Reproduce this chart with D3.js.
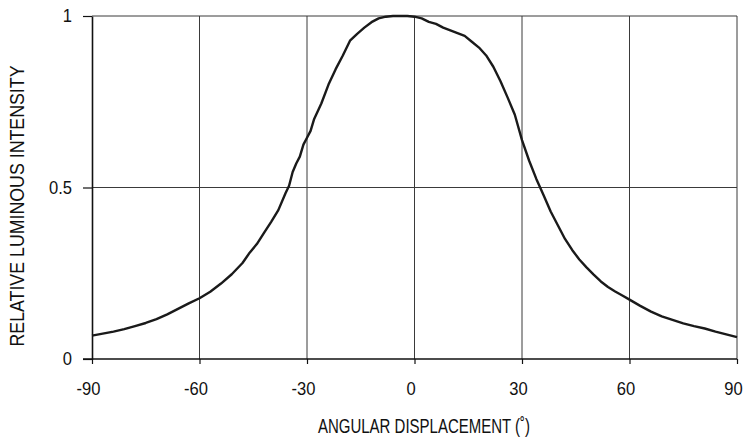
<!DOCTYPE html>
<html>
<head>
<meta charset="utf-8">
<script src="https://cdn.jsdelivr.net/npm/d3@7"></script>
<style>
  html, body { margin: 0; padding: 0; background: #fff; }
  svg text { font-family: "Liberation Sans", Arial, sans-serif; fill: #111; }
</style>
</head>
<body>
<svg id="chart" width="746" height="440"></svg>
<script>
const angles = [-90,-87,-84,-81,-78,-75,-72,-69,-66,-63,-60,-57,-54,-51,-48,-46,-44,-42,-40,-38,-36,-35,-34,-33,-32,-31,-30,-29,-28,-26,-24,-22,-20,-18,-16,-14,-12,-10,-8,-6,-4,-2,0,2,4,6,8,10,12,14,16,18,20,22,24,26,28,30,32,34,36,38,40,42,44,46,48,50,52,54,56,58,60,63,66,69,72,75,78,81,84,87,90];
const intensity = [0.068,0.074,0.080,0.087,0.096,0.105,0.116,0.130,0.146,0.162,0.177,0.196,0.220,0.247,0.280,0.310,0.335,0.368,0.400,0.434,0.483,0.505,0.545,0.570,0.590,0.625,0.645,0.665,0.700,0.745,0.800,0.845,0.885,0.928,0.948,0.966,0.982,0.993,0.998,1.0,1.0,1.0,0.998,0.993,0.983,0.977,0.966,0.958,0.950,0.942,0.925,0.908,0.885,0.852,0.810,0.762,0.712,0.638,0.578,0.525,0.478,0.430,0.390,0.350,0.318,0.290,0.267,0.246,0.226,0.210,0.197,0.185,0.173,0.155,0.138,0.124,0.114,0.104,0.096,0.089,0.080,0.072,0.064];
const xTicks = [-90,-60,-30,0,30,60,90];
const xTickLabels = ["-90","-60","-30","0","30","60","90"];
const yTicks = [0,0.5,1];
const yTickLabels = ["0","0.5","1"];
const xTitle = "ANGULAR DISPLACEMENT (˚)";
const yTitle = "RELATIVE LUMINOUS INTENSITY";

const svg = d3.select("#chart");
const mLeft = 92, mRight = 737, mTop = 16, mBottom = 359;
const x = d3.scaleLinear().domain([-90, 90]).range([mLeft, mRight]);
const y = d3.scaleLinear().domain([0, 1]).range([mBottom, mTop]);

// condense text horizontally (reference uses a narrow typeface)
function condense(sel, factor) {
  sel.each(function () {
    const w = this.getComputedTextLength();
    d3.select(this).attr("textLength", w * factor).attr("lengthAdjust", "spacingAndGlyphs");
  });
}

// grid
const grid = svg.append("g");
grid.selectAll("line.v").data(xTicks.filter(d => d !== -90)).enter().append("line")
  .attr("x1", d => x(d)).attr("x2", d => x(d)).attr("y1", mTop).attr("y2", mBottom)
  .attr("stroke", "#3a3a3a").attr("stroke-width", 1);
grid.selectAll("line.h").data(yTicks.filter(d => d !== 0)).enter().append("line")
  .attr("x1", mLeft).attr("x2", mRight).attr("y1", d => y(d)).attr("y2", d => y(d))
  .attr("stroke", "#3a3a3a").attr("stroke-width", 1);

// axes
const xAxis = d3.axisBottom(x).tickValues(xTicks).tickSize(5).tickSizeOuter(0).tickPadding(18)
  .tickFormat((d, i) => xTickLabels[i]);
const gx = svg.append("g").attr("transform", `translate(0,${mBottom})`).call(xAxis);
const yAxis = d3.axisLeft(y).tickValues(yTicks).tickSize(9).tickSizeOuter(0).tickPadding(11)
  .tickFormat((d, i) => yTickLabels[i]);
const gy = svg.append("g").attr("transform", `translate(${mLeft},0)`).call(yAxis);
[gx, gy].forEach(g => {
  g.select(".domain").attr("stroke", "#111").attr("stroke-width", 1.6);
  g.selectAll(".tick line").attr("stroke", "#111").attr("stroke-width", 1.2);
  g.selectAll(".tick text").style("font-size", "18px").attr("fill", "#111");
  condense(g.selectAll(".tick text"), 0.92);
});
gx.selectAll(".tick text").attr("dx", -4);
gx.select(".domain").attr("d", `M${mLeft - 9},0H${mRight}`);

// line
const line = d3.line().x((d, i) => x(angles[i])).y(d => y(d)).curve(d3.curveLinear);
svg.append("path").datum(intensity).attr("d", line)
  .attr("fill", "none").attr("stroke", "#1a1a1a").attr("stroke-width", 2.4)
  .attr("stroke-linejoin", "round");

// titles
const xt = svg.append("text").attr("x", 424).attr("y", 433).attr("text-anchor", "middle")
  .style("font-size", "19.5px").text(xTitle);
xt.attr("textLength", 212).attr("lengthAdjust", "spacingAndGlyphs");
const yt = svg.append("text").attr("transform", `translate(24,206) rotate(-90)`).attr("text-anchor", "middle")
  .style("font-size", "19.5px").text(yTitle);
yt.attr("textLength", 281).attr("lengthAdjust", "spacingAndGlyphs");
</script>
</body>
</html>
